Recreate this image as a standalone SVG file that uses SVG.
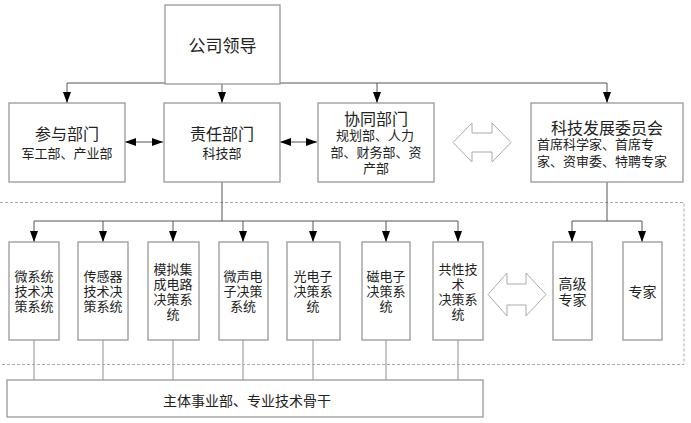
<svg xmlns="http://www.w3.org/2000/svg" width="691" height="423" viewBox="0 0 691 423">
<style>
.box{fill:#fff;stroke:#999;stroke-width:1.3}
.t{font-family:"Noto Sans CJK SC","Noto Sans",sans-serif;fill:#222;text-anchor:middle;dominant-baseline:central}
.h{font-size:16px}
.s{font-size:13px}
.c{stroke:#555;stroke-width:1;fill:none}
.g{stroke:#aaa;stroke-width:1.3;fill:none}
.d{stroke:#aaa;stroke-width:1;fill:none;stroke-dasharray:3 2}
.hol{fill:#fff;stroke:#aaa;stroke-width:1}
</style>
<defs>
<marker id="a" markerUnits="userSpaceOnUse" markerWidth="12" markerHeight="8" refX="11" refY="4" orient="auto-start-reverse">
<path d="M0,0 L11,4 L0,8 z" fill="#000"/>
</marker>
</defs>
<rect x="0" y="0" width="691" height="423" fill="#fff"/>
<g id="frame">
<path class="d" d="M0,202.5 H684 V364.5 H0"/>
</g>
<g id="connectors">
<path class="c" d="M222,84 V103" marker-end="url(#a)"/>
<path class="c" d="M67,83 H607"/>
<path class="c" d="M67,83 V103" marker-end="url(#a)"/>
<path class="c" d="M377,83 V103" marker-end="url(#a)"/>
<path class="c" d="M607,83 V103" marker-end="url(#a)"/>
<path class="c" d="M125,142 H163" marker-start="url(#a)" marker-end="url(#a)"/>
<path class="c" d="M280,142 H317" marker-start="url(#a)" marker-end="url(#a)"/>
<path class="c" d="M222,182 V221"/>
<path class="c" d="M34,221 H458"/>
<path class="c" d="M34,221 V242" marker-end="url(#a)"/>
<path class="c" d="M103,221 V242" marker-end="url(#a)"/>
<path class="c" d="M173,221 V242" marker-end="url(#a)"/>
<path class="c" d="M243,221 V242" marker-end="url(#a)"/>
<path class="c" d="M313,221 V242" marker-end="url(#a)"/>
<path class="c" d="M386,221 V242" marker-end="url(#a)"/>
<path class="c" d="M458,221 V242" marker-end="url(#a)"/>
<path class="c" d="M607,182 V221"/>
<path class="c" d="M572,221 H642"/>
<path class="c" d="M572,221 V242" marker-end="url(#a)"/>
<path class="c" d="M642,221 V242" marker-end="url(#a)"/>
<path class="g" d="M34,340 V380 M103,340 V380 M173,340 V380 M243,340 V380 M313,340 V380 M386,340 V380 M458,340 V380"/>
<path class="hol" d="M453,142.5 L472,123 V133 H492 V123 L511,142.5 L492,162 V152 H472 V162 Z"/>
<path class="hol" d="M488,294.5 L507,273 V284 H526 V273 L546,294.5 L526,316 V305 H507 V316 Z"/>
</g>
<g id="n-leader">
<rect class="box" x="165" y="5" width="115" height="79"/>
<text class="t" x="222.5" y="44" style="font-size:17px">公司领导</text>
</g>
<g id="n-participate">
<rect class="box" x="9" y="103" width="116" height="79"/>
<text class="t h" x="67" y="133">参与部门</text>
<text class="t s" x="67" y="152">军工部、产业部</text>
</g>
<g id="n-responsible">
<rect class="box" x="164" y="103" width="116" height="79"/>
<text class="t h" x="222" y="133">责任部门</text>
<text class="t s" x="222" y="152">科技部</text>
</g>
<g id="n-cooperate">
<rect class="box" x="318" y="103" width="116" height="79"/>
<text class="t h" x="376" y="118">协同部门</text>
<text class="t s" x="375" y="134">规划部、人力</text>
<text class="t s" x="376" y="151">部、财务部、资</text>
<text class="t s" x="376" y="167">产部</text>
</g>
<g id="n-committee">
<rect class="box" x="531" y="103" width="152" height="79"/>
<text class="t h" x="607" y="127">科技发展委员会</text>
<text class="t s" x="537" y="143" style="text-anchor:start">首席科学家、首席专</text>
<text class="t s" x="537" y="160" style="text-anchor:start">家、资审委、特聘专家</text>
</g>
<g id="n-mems">
<rect class="box" x="9" y="242" width="50" height="98"/>
<text class="t s" x="34" y="275">微系统</text>
<text class="t s" x="34" y="290">技术决</text>
<text class="t s" x="34" y="305">策系统</text>
</g>
<g id="n-sensor">
<rect class="box" x="78" y="242" width="50" height="98"/>
<text class="t s" x="103" y="275">传感器</text>
<text class="t s" x="103" y="290">技术决</text>
<text class="t s" x="103" y="305">策系统</text>
</g>
<g id="n-analog">
<rect class="box" x="148" y="242" width="51" height="98"/>
<text class="t s" x="173" y="268">模拟集</text>
<text class="t s" x="173" y="283">成电路</text>
<text class="t s" x="173" y="298">决策系</text>
<text class="t s" x="173" y="313">统</text>
</g>
<g id="n-acoustic">
<rect class="box" x="219" y="242" width="49" height="98"/>
<text class="t s" x="243" y="275">微声电</text>
<text class="t s" x="243" y="290">子决策</text>
<text class="t s" x="243" y="305">系统</text>
</g>
<g id="n-opto">
<rect class="box" x="287" y="242" width="53" height="98"/>
<text class="t s" x="313" y="275">光电子</text>
<text class="t s" x="313" y="290">决策系</text>
<text class="t s" x="313" y="305">统</text>
</g>
<g id="n-magnetic">
<rect class="box" x="362" y="242" width="48" height="98"/>
<text class="t s" x="386" y="275">磁电子</text>
<text class="t s" x="386" y="290">决策系</text>
<text class="t s" x="386" y="305">统</text>
</g>
<g id="n-common">
<rect class="box" x="433" y="242" width="50" height="98"/>
<text class="t s" x="458" y="268">共性技</text>
<text class="t s" x="458" y="283">术</text>
<text class="t s" x="458" y="298">决策系</text>
<text class="t s" x="458" y="313">统</text>
</g>
<g id="n-senior">
<rect class="box" x="553" y="242" width="39" height="98"/>
<text class="t" x="572.5" y="283" style="font-size:14px">高级</text>
<text class="t" x="572.5" y="299" style="font-size:14px">专家</text>
</g>
<g id="n-expert">
<rect class="box" x="623" y="242" width="39" height="98"/>
<text class="t" x="642.5" y="291" style="font-size:14px">专家</text>
</g>
<g id="n-base">
<rect class="box" x="7" y="380" width="476" height="37"/>
<text class="t" x="247" y="400" style="font-size:14px">主体事业部、专业技术骨干</text>
</g>
</svg>
